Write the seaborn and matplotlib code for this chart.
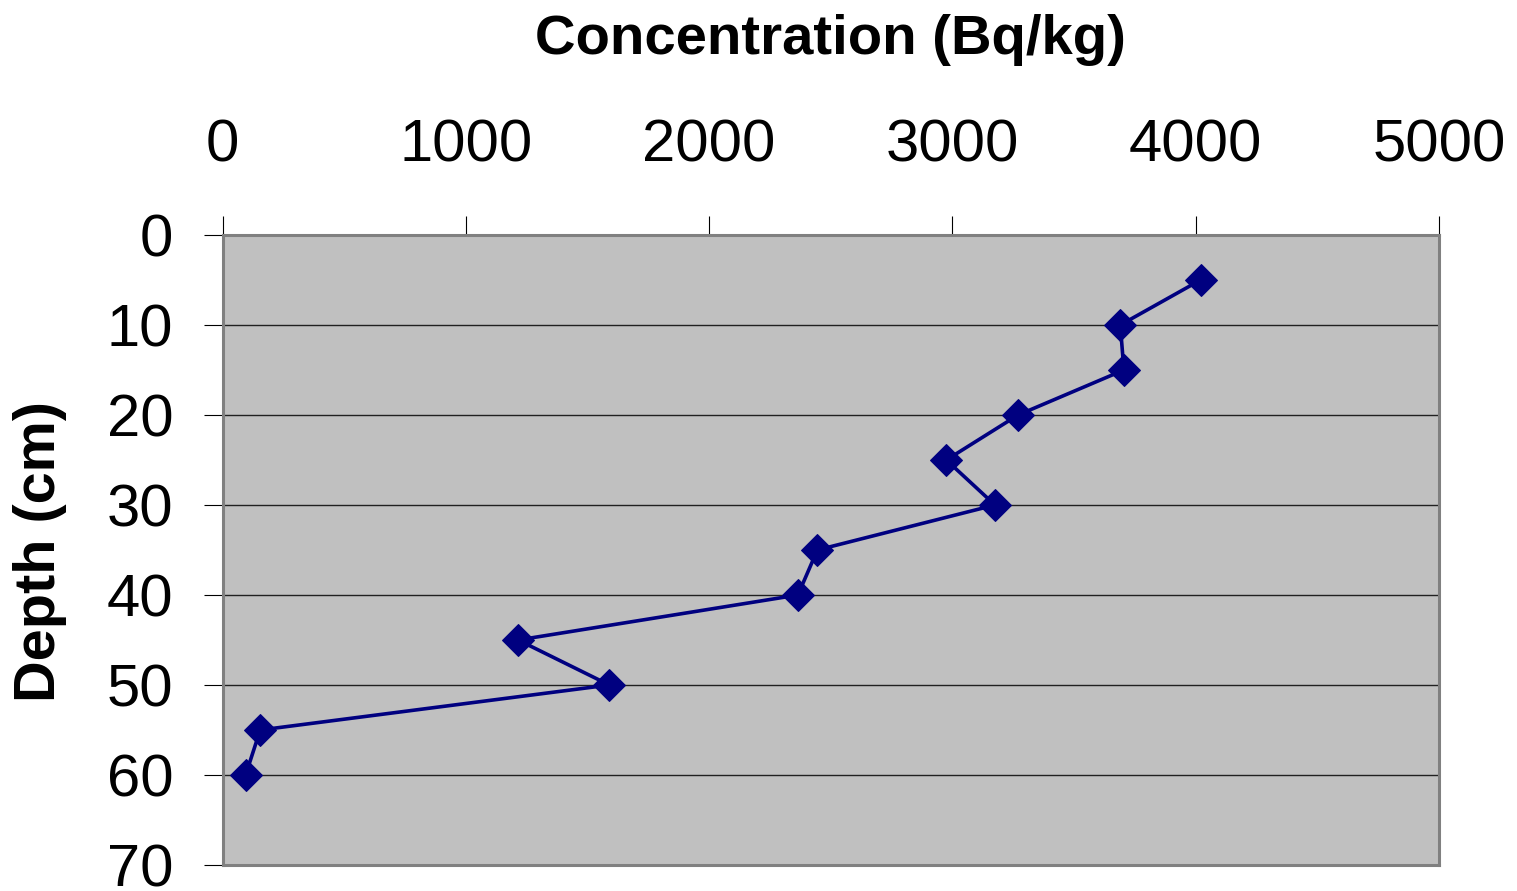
import matplotlib
matplotlib.use("Agg")
import matplotlib.pyplot as plt
import seaborn as sns
import pandas as pd

# ---- data ----
depth_cm = [5, 10, 15, 20, 25, 30, 35, 40, 45, 50, 55, 60]
concentration_bqkg = [4020, 3690, 3705, 3270, 2975, 3175, 2445, 2365, 1215, 1590, 155, 95]
x_ticks = [0, 1000, 2000, 3000, 4000, 5000]
y_ticks = [0, 10, 20, 30, 40, 50, 60, 70]
x_title = "Concentration (Bq/kg)"
y_title = "Depth (cm)"

df = pd.DataFrame({"Concentration": concentration_bqkg, "Depth": depth_cm})

sns.set_theme(style="white")
plt.rcParams["font.family"] = ["Liberation Sans", "DejaVu Sans"]
plt.rcParams["text.color"] = "black"
plt.rcParams["xtick.color"] = "black"
plt.rcParams["ytick.color"] = "black"

W, H = 1517, 891
fig = plt.figure(figsize=(W / 100, H / 100), dpi=100)
left, right, top, bottom = 222.5, 1439, 235, 865
ax = fig.add_axes([left / W, 1 - bottom / H, (right - left) / W, (bottom - top) / H])
ax.set_facecolor("#C0C0C0")

sns.lineplot(data=df, x="Concentration", y="Depth", sort=False, estimator=None,
             marker="D", markersize=16.5, color="#000080", linewidth=2.6,
             markeredgecolor="#000080", ax=ax, zorder=3)

ax.set_xlim(0, 5000)
ax.set_ylim(70, 0)
ax.set_xticks(x_ticks)
ax.set_yticks(y_ticks)
ax.xaxis.tick_top()
ax.set_xlabel("")
ax.set_ylabel("")

ax.grid(False)
for v in y_ticks[1:-1]:
    ax.axhline(v, color="#202020", linewidth=1.0, zorder=1)

ax.tick_params(axis="x", which="major", direction="out", length=13.5, width=0.8,
               color="black", labelcolor="black", labelsize=43, pad=31,
               top=True, bottom=False, labeltop=True, labelbottom=False)
ax.tick_params(axis="y", which="major", direction="out", length=13.5, width=0.8,
               color="black", labelcolor="black", labelsize=43, pad=22, left=True)

for s in ax.spines.values():
    s.set_color("#808080")
    s.set_linewidth(2.2)
    s.set_visible(True)

fig.text(830 / W, 1 - 40 / H, x_title, ha="center", va="center",
         fontsize=40.5, fontweight="bold", color="black")
fig.text(40 / W, 1 - 552 / H, y_title, ha="center", va="center",
         rotation=90, fontsize=41.5, fontweight="bold", color="black")

fig.savefig("out.png", dpi=100)
